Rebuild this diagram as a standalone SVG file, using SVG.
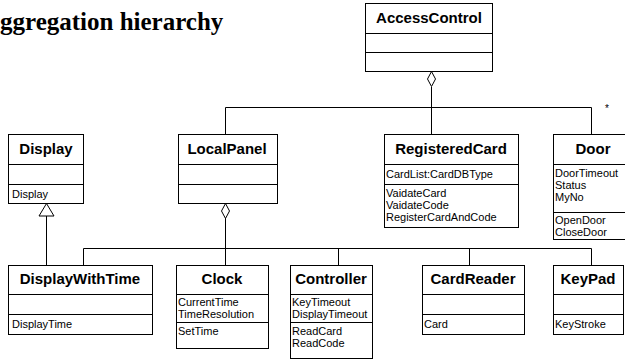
<svg xmlns="http://www.w3.org/2000/svg" width="625" height="360" viewBox="0 0 625 360">
<style>
rect{fill:#fff;stroke:#000;stroke-width:1}
line,path,polyline{stroke:#000;stroke-width:1;fill:none}
.nm{font-family:"Liberation Sans",Arial,sans-serif;font-weight:bold;font-size:15px;text-anchor:middle;fill:#000}
.tx{font-family:"Liberation Sans",Arial,sans-serif;font-size:11px;fill:#000}
.title{font-family:"Liberation Serif","Times New Roman",serif;font-weight:bold;font-size:25px;fill:#000}
.dia{fill:#fff;stroke:#000;stroke-width:1}
</style>
<rect x="0" y="0" width="625" height="360" style="fill:#fff;stroke:none"/>
<text class="title" x="0" y="30">ggregation hierarchy</text>

<g id="connectors">
  <line x1="431.5" y1="87" x2="431.5" y2="107.5"/>
  <polyline points="225.5,134 225.5,107.5 591.5,107.5 591.5,134"/>
  <line x1="431.5" y1="107.5" x2="431.5" y2="134"/>
  <polygon class="dia" points="431.5,71.5 435.5,79 431.5,86.5 427.5,79"/>
  <text class="tx" x="605" y="112" style="font-size:10px">*</text>
  <line x1="225.5" y1="218" x2="225.5" y2="265"/>
  <polygon class="dia" points="225.5,203.5 229.5,211 225.5,218.5 221.5,211"/>
  <polyline points="83.5,265 83.5,248.5 591.5,248.5 591.5,265"/>
  <line x1="338.5" y1="248.5" x2="338.5" y2="265"/>
  <line x1="469.5" y1="248.5" x2="469.5" y2="265"/>
  <line x1="46.5" y1="216" x2="46.5" y2="265"/>
  <polygon class="dia" points="46.5,203.5 54,216 39,216"/>
</g>

<g id="AccessControl">
  <rect x="365.5" y="3.5" width="127" height="68"/>
  <line x1="365.5" y1="33.5" x2="492.5" y2="33.5"/>
  <line x1="365.5" y1="52.5" x2="492.5" y2="52.5"/>
  <text class="nm" x="429" y="23">AccessControl</text>
</g>

<g id="Display">
  <rect x="8.5" y="134.5" width="75" height="69"/>
  <line x1="8.5" y1="164.5" x2="83.5" y2="164.5"/>
  <line x1="8.5" y1="184.5" x2="83.5" y2="184.5"/>
  <text class="nm" x="46" y="154">Display</text>
  <text class="tx" x="12" y="197.5">Display</text>
</g>

<g id="LocalPanel">
  <rect x="178.5" y="134.5" width="99" height="69"/>
  <line x1="178.5" y1="164.5" x2="277.5" y2="164.5"/>
  <line x1="178.5" y1="184.5" x2="277.5" y2="184.5"/>
  <text class="nm" x="227" y="154">LocalPanel</text>
</g>

<g id="RegisteredCard">
  <rect x="384.5" y="134.5" width="134" height="93"/>
  <line x1="384.5" y1="164.5" x2="518.5" y2="164.5"/>
  <line x1="384.5" y1="184.5" x2="518.5" y2="184.5"/>
  <text class="nm" x="451" y="154">RegisteredCard</text>
  <text class="tx" x="386" y="178">CardList:CardDBType</text>
  <text class="tx" x="386" y="196.5">VaidateCard</text>
  <text class="tx" x="386" y="208.5">VaidateCode</text>
  <text class="tx" x="386" y="220.5">RegisterCardAndCode</text>
</g>

<g id="Door">
  <rect x="553.5" y="134.5" width="90" height="105"/>
  <line x1="553.5" y1="164.5" x2="643.5" y2="164.5"/>
  <line x1="553.5" y1="212.5" x2="643.5" y2="212.5"/>
  <text class="nm" x="593" y="154">Door</text>
  <text class="tx" x="555" y="177">DoorTimeout</text>
  <text class="tx" x="555" y="189">Status</text>
  <text class="tx" x="555" y="201">MyNo</text>
  <text class="tx" x="555" y="224">OpenDoor</text>
  <text class="tx" x="555" y="236">CloseDoor</text>
</g>

<g id="DisplayWithTime">
  <rect x="8.5" y="265.5" width="144" height="69"/>
  <line x1="8.5" y1="294.5" x2="152.5" y2="294.5"/>
  <line x1="8.5" y1="314.5" x2="152.5" y2="314.5"/>
  <text class="nm" x="80" y="284">DisplayWithTime</text>
  <text class="tx" x="12" y="327.5">DisplayTime</text>
</g>

<g id="Clock">
  <rect x="176.5" y="265.5" width="92" height="83"/>
  <line x1="176.5" y1="294.5" x2="268.5" y2="294.5"/>
  <line x1="176.5" y1="322.5" x2="268.5" y2="322.5"/>
  <text class="nm" x="222" y="284">Clock</text>
  <text class="tx" x="178" y="306">CurrentTime</text>
  <text class="tx" x="178" y="318">TimeResolution</text>
  <text class="tx" x="178" y="334.5">SetTime</text>
</g>

<g id="Controller">
  <rect x="290.5" y="265.5" width="82" height="93"/>
  <line x1="290.5" y1="294.5" x2="372.5" y2="294.5"/>
  <line x1="290.5" y1="322.5" x2="372.5" y2="322.5"/>
  <text class="nm" x="331" y="284">Controller</text>
  <text class="tx" x="292" y="306">KeyTimeout</text>
  <text class="tx" x="292" y="318">DisplayTimeout</text>
  <text class="tx" x="292" y="334.5">ReadCard</text>
  <text class="tx" x="292" y="346.5">ReadCode</text>
</g>

<g id="CardReader">
  <rect x="422.5" y="265.5" width="102" height="69"/>
  <line x1="422.5" y1="294.5" x2="524.5" y2="294.5"/>
  <line x1="422.5" y1="314.5" x2="524.5" y2="314.5"/>
  <text class="nm" x="473" y="284">CardReader</text>
  <text class="tx" x="424" y="327.5">Card</text>
</g>

<g id="KeyPad">
  <rect x="553.5" y="265.5" width="70" height="69"/>
  <line x1="553.5" y1="294.5" x2="623.5" y2="294.5"/>
  <line x1="553.5" y1="314.5" x2="623.5" y2="314.5"/>
  <text class="nm" x="588" y="284">KeyPad</text>
  <text class="tx" x="555" y="327.5">KeyStroke</text>
</g>
</svg>
